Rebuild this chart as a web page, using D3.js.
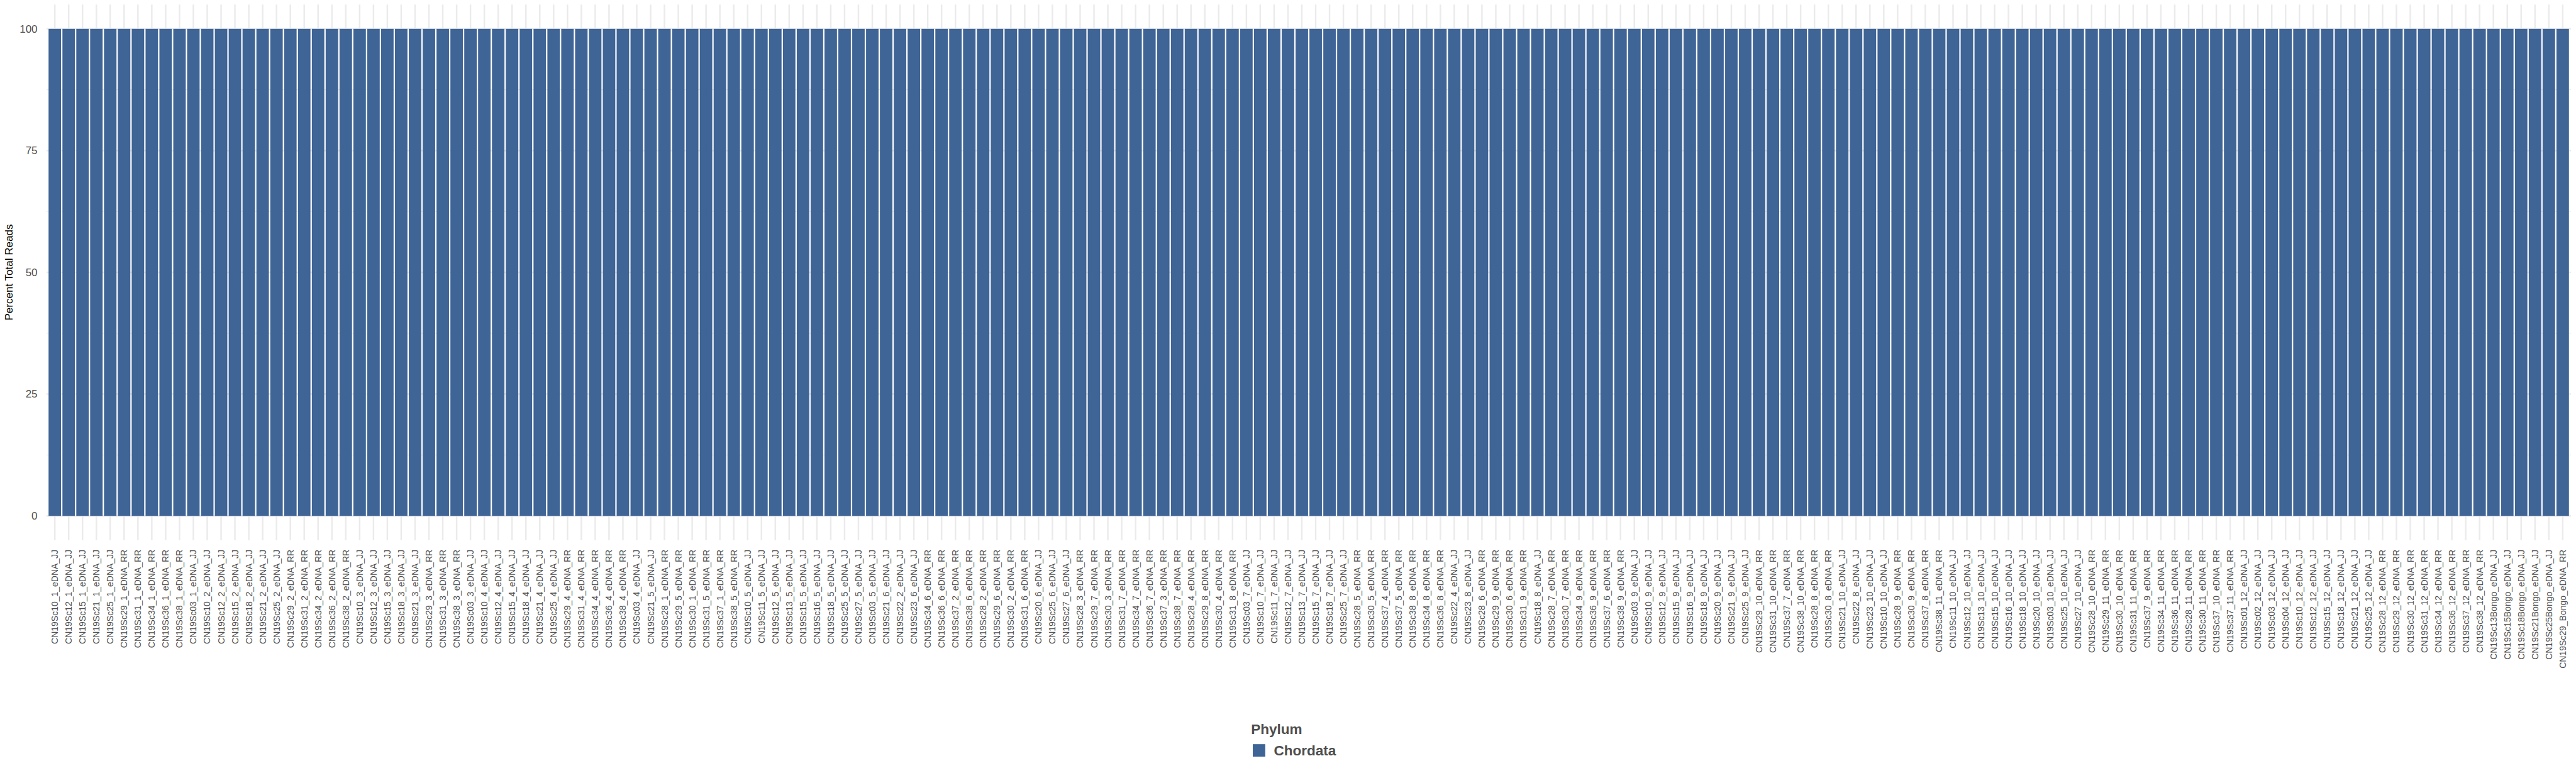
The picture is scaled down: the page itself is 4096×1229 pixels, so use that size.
<!DOCTYPE html>
<html>
<head>
<meta charset="utf-8">
<script src="https://cdn.jsdelivr.net/npm/d3@7"></script>
<style>
html, body { margin: 0; padding: 0; background: #ffffff; overflow: hidden; }
svg { display: block; }
</style>
</head>
<body>
<script>
// ---------------- DATA ----------------
const samples = [
"CN19Sc10_1_eDNA_JJ","CN19Sc12_1_eDNA_JJ","CN19Sc15_1_eDNA_JJ","CN19Sc21_1_eDNA_JJ","CN19Sc25_1_eDNA_JJ",
"CN19Sc29_1_eDNA_RR","CN19Sc31_1_eDNA_RR","CN19Sc34_1_eDNA_RR","CN19Sc36_1_eDNA_RR","CN19Sc38_1_eDNA_RR",
"CN19Sc03_1_eDNA_JJ","CN19Sc10_2_eDNA_JJ","CN19Sc12_2_eDNA_JJ","CN19Sc15_2_eDNA_JJ","CN19Sc18_2_eDNA_JJ",
"CN19Sc21_2_eDNA_JJ","CN19Sc25_2_eDNA_JJ","CN19Sc29_2_eDNA_RR","CN19Sc31_2_eDNA_RR","CN19Sc34_2_eDNA_RR",
"CN19Sc36_2_eDNA_RR","CN19Sc38_2_eDNA_RR","CN19Sc10_3_eDNA_JJ","CN19Sc12_3_eDNA_JJ","CN19Sc15_3_eDNA_JJ",
"CN19Sc18_3_eDNA_JJ","CN19Sc21_3_eDNA_JJ","CN19Sc29_3_eDNA_RR","CN19Sc31_3_eDNA_RR","CN19Sc38_3_eDNA_RR",
"CN19Sc03_3_eDNA_JJ","CN19Sc10_4_eDNA_JJ","CN19Sc12_4_eDNA_JJ","CN19Sc15_4_eDNA_JJ","CN19Sc18_4_eDNA_JJ",
"CN19Sc21_4_eDNA_JJ","CN19Sc25_4_eDNA_JJ","CN19Sc29_4_eDNA_RR","CN19Sc31_4_eDNA_RR","CN19Sc34_4_eDNA_RR",
"CN19Sc36_4_eDNA_RR","CN19Sc38_4_eDNA_RR","CN19Sc03_4_eDNA_JJ","CN19Sc21_5_eDNA_JJ","CN19Sc28_1_eDNA_RR",
"CN19Sc29_5_eDNA_RR","CN19Sc30_1_eDNA_RR","CN19Sc31_5_eDNA_RR","CN19Sc37_1_eDNA_RR","CN19Sc38_5_eDNA_RR",
"CN19Sc10_5_eDNA_JJ","CN19Sc11_5_eDNA_JJ","CN19Sc12_5_eDNA_JJ","CN19Sc13_5_eDNA_JJ","CN19Sc15_5_eDNA_JJ",
"CN19Sc16_5_eDNA_JJ","CN19Sc18_5_eDNA_JJ","CN19Sc25_5_eDNA_JJ","CN19Sc27_5_eDNA_JJ","CN19Sc03_5_eDNA_JJ",
"CN19Sc21_6_eDNA_JJ","CN19Sc22_2_eDNA_JJ","CN19Sc23_6_eDNA_JJ","CN19Sc34_6_eDNA_RR","CN19Sc36_6_eDNA_RR",
"CN19Sc37_2_eDNA_RR","CN19Sc38_6_eDNA_RR","CN19Sc28_2_eDNA_RR","CN19Sc29_6_eDNA_RR","CN19Sc30_2_eDNA_RR",
"CN19Sc31_6_eDNA_RR","CN19Sc20_6_eDNA_JJ","CN19Sc25_6_eDNA_JJ","CN19Sc27_6_eDNA_JJ","CN19Sc28_3_eDNA_RR",
"CN19Sc29_7_eDNA_RR","CN19Sc30_3_eDNA_RR","CN19Sc31_7_eDNA_RR","CN19Sc34_7_eDNA_RR","CN19Sc36_7_eDNA_RR",
"CN19Sc37_3_eDNA_RR","CN19Sc38_7_eDNA_RR","CN19Sc28_4_eDNA_RR","CN19Sc29_8_eDNA_RR","CN19Sc30_4_eDNA_RR",
"CN19Sc31_8_eDNA_RR","CN19Sc03_7_eDNA_JJ","CN19Sc10_7_eDNA_JJ","CN19Sc11_7_eDNA_JJ","CN19Sc12_7_eDNA_JJ",
"CN19Sc13_7_eDNA_JJ","CN19Sc15_7_eDNA_JJ","CN19Sc18_7_eDNA_JJ","CN19Sc25_7_eDNA_JJ","CN19Sc28_5_eDNA_RR",
"CN19Sc30_5_eDNA_RR","CN19Sc37_4_eDNA_RR","CN19Sc37_5_eDNA_RR","CN19Sc38_8_eDNA_RR","CN19Sc34_8_eDNA_RR",
"CN19Sc36_8_eDNA_RR","CN19Sc22_4_eDNA_JJ","CN19Sc23_8_eDNA_JJ","CN19Sc28_6_eDNA_RR","CN19Sc29_9_eDNA_RR",
"CN19Sc30_6_eDNA_RR","CN19Sc31_9_eDNA_RR","CN19Sc18_8_eDNA_JJ","CN19Sc28_7_eDNA_RR","CN19Sc30_7_eDNA_RR",
"CN19Sc34_9_eDNA_RR","CN19Sc36_9_eDNA_RR","CN19Sc37_6_eDNA_RR","CN19Sc38_9_eDNA_RR","CN19Sc03_9_eDNA_JJ",
"CN19Sc10_9_eDNA_JJ","CN19Sc12_9_eDNA_JJ","CN19Sc15_9_eDNA_JJ","CN19Sc16_9_eDNA_JJ","CN19Sc18_9_eDNA_JJ",
"CN19Sc20_9_eDNA_JJ","CN19Sc21_9_eDNA_JJ","CN19Sc25_9_eDNA_JJ","CN19Sc29_10_eDNA_RR","CN19Sc31_10_eDNA_RR",
"CN19Sc37_7_eDNA_RR","CN19Sc38_10_eDNA_RR","CN19Sc28_8_eDNA_RR","CN19Sc30_8_eDNA_RR","CN19Sc21_10_eDNA_JJ",
"CN19Sc22_8_eDNA_JJ","CN19Sc23_10_eDNA_JJ","CN19Sc10_10_eDNA_JJ","CN19Sc28_9_eDNA_RR","CN19Sc30_9_eDNA_RR",
"CN19Sc37_8_eDNA_RR","CN19Sc38_11_eDNA_RR","CN19Sc11_10_eDNA_JJ","CN19Sc12_10_eDNA_JJ","CN19Sc13_10_eDNA_JJ",
"CN19Sc15_10_eDNA_JJ","CN19Sc16_10_eDNA_JJ","CN19Sc18_10_eDNA_JJ","CN19Sc20_10_eDNA_JJ","CN19Sc03_10_eDNA_JJ",
"CN19Sc25_10_eDNA_JJ","CN19Sc27_10_eDNA_JJ","CN19Sc28_10_eDNA_RR","CN19Sc29_11_eDNA_RR","CN19Sc30_10_eDNA_RR",
"CN19Sc31_11_eDNA_RR","CN19Sc37_9_eDNA_RR","CN19Sc34_11_eDNA_RR","CN19Sc36_11_eDNA_RR","CN19Sc28_11_eDNA_RR",
"CN19Sc30_11_eDNA_RR","CN19Sc37_10_eDNA_RR","CN19Sc37_11_eDNA_RR","CN19Sc01_12_eDNA_JJ","CN19Sc02_12_eDNA_JJ",
"CN19Sc03_12_eDNA_JJ","CN19Sc04_12_eDNA_JJ","CN19Sc10_12_eDNA_JJ","CN19Sc12_12_eDNA_JJ","CN19Sc15_12_eDNA_JJ",
"CN19Sc18_12_eDNA_JJ","CN19Sc21_12_eDNA_JJ","CN19Sc25_12_eDNA_JJ","CN19Sc28_12_eDNA_RR","CN19Sc29_12_eDNA_RR",
"CN19Sc30_12_eDNA_RR","CN19Sc31_12_eDNA_RR","CN19Sc34_12_eDNA_RR","CN19Sc36_12_eDNA_RR","CN19Sc37_12_eDNA_RR",
"CN19Sc38_12_eDNA_RR","CN19Sc13Bongo_eDNA_JJ","CN19Sc15Bongo_eDNA_JJ","CN19Sc18Bongo_eDNA_JJ","CN19Sc21Bongo_eDNA_JJ",
"CN19Sc25Bongo_eDNA_JJ","CN19Sc29_Bongo_eDNA_RR"
];

// Percent of total reads assigned to Chordata, one per sample
const chordataPercent = [
100,100,100,100,100,100,100,100,100,100,
100,100,100,100,100,100,100,100,100,100,
100,100,100,100,100,100,100,100,100,100,
100,100,100,100,100,100,100,100,100,100,
100,100,100,100,100,100,100,100,100,100,
100,100,100,100,100,100,100,100,100,100,
100,100,100,100,100,100,100,100,100,100,
100,100,100,100,100,100,100,100,100,100,
100,100,100,100,100,100,100,100,100,100,
100,100,100,100,100,100,100,100,100,100,
100,100,100,100,100,100,100,100,100,100,
100,100,100,100,100,100,100,100,100,100,
100,100,100,100,100,100,100,100,100,100,
100,100,100,100,100,100,100,100,100,100,
100,100,100,100,100,100,100,100,100,100,
100,100,100,100,100,100,100,100,100,100,
100,100,100,100,100,100,100,100,100,100,
100,100,100,100,100,100,100,100,100,100,
100,100
];

const phyla = ["Chordata"];
const phylumColors = ["#3F6496"];
const yTickValues = [0, 25, 50, 75, 100];
const yMinorValues = [12.5, 37.5, 62.5, 87.5];
const yTitle = "Percent Total Reads";
const legendTitle = "Phylum";

// ---------------- LAYOUT (reference pixel units, 6000 x 1800) ----------------
const W = 6000, H = 1800;
const panel = { left: 108.3, right: 5988.4, top: 10.3, bottom: 1258 };
const fontFamily = "'Liberation Sans', Arial, Helvetica, sans-serif";
const textGrey = "#4D4D4D";
const gridColor = "#EBEBEB";

const svg = d3.select("body").append("svg")
  .attr("width", 4096).attr("height", 1229)
  .attr("viewBox", `0 0 ${W} ${H}`)
  .style("font-family", fontFamily);

svg.append("rect").attr("width", W).attr("height", H).attr("fill", "#ffffff");

const data = samples.map((s, i) => ({ sample: s, value: chordataPercent[i], phylum: phyla[0] }));

const x = d3.scaleBand()
  .domain(samples)
  .range([panel.left, panel.right])
  .paddingInner(0.1)
  .paddingOuter(0.15);

const y = d3.scaleLinear()
  .domain([-5, 105])
  .range([panel.bottom, panel.top]);

const color = d3.scaleOrdinal().domain(phyla).range(phylumColors);

// grid
const grid = svg.append("g");
grid.selectAll("line.minor").data(yMinorValues).join("line")
  .attr("x1", panel.left).attr("x2", panel.right)
  .attr("y1", d => y(d)).attr("y2", d => y(d))
  .attr("stroke", gridColor).attr("stroke-width", 1.8);
grid.selectAll("line.hmajor").data(yTickValues).join("line")
  .attr("x1", panel.left).attr("x2", panel.right)
  .attr("y1", d => y(d)).attr("y2", d => y(d))
  .attr("stroke", gridColor).attr("stroke-width", 3.6);
grid.selectAll("line.vmajor").data(samples).join("line")
  .attr("x1", d => x(d) + x.bandwidth() / 2).attr("x2", d => x(d) + x.bandwidth() / 2)
  .attr("y1", panel.top).attr("y2", panel.bottom)
  .attr("stroke", gridColor).attr("stroke-width", 3.6);

// bars
svg.append("g").selectAll("rect").data(data).join("rect")
  .attr("x", d => x(d.sample))
  .attr("width", x.bandwidth())
  .attr("y", d => y(d.value))
  .attr("height", d => y(0) - y(d.value))
  .attr("fill", d => color(d.phylum));

// y axis
const yAxis = d3.axisLeft(y).tickValues(yTickValues).tickSize(0).tickPadding(21);
const gy = svg.append("g").attr("transform", `translate(${panel.left},0)`).call(yAxis);
gy.select(".domain").remove();
gy.selectAll("text")
  .attr("fill", textGrey)
  .style("font-size", "25px")
  .style("font-family", fontFamily);

// x axis
const xAxis = d3.axisBottom(x).tickSize(0).tickPadding(0);
const gx = svg.append("g").attr("transform", `translate(0,${panel.bottom})`).call(xAxis);
gx.select(".domain").remove();
gx.selectAll("text")
  .attr("fill", textGrey)
  .style("font-size", "20.5px")
  .style("font-family", fontFamily)
  .attr("text-anchor", "end")
  .attr("dy", null)
  .attr("y", 0)
  .attr("dominant-baseline", "central")
  .attr("transform", "translate(0,22) rotate(-90)");

// y title
svg.append("text")
  .attr("transform", `translate(21,${(panel.top + panel.bottom) / 2}) rotate(-90)`)
  .attr("text-anchor", "middle")
  .attr("dominant-baseline", "central")
  .attr("fill", "#000000")
  .style("font-size", "25px")
  .text(yTitle);

// legend
const legend = svg.append("g");
legend.append("text")
  .attr("x", 2914).attr("y", 1710)
  .attr("fill", textGrey)
  .style("font-size", "33px").style("font-weight", "bold")
  .text(legendTitle);
const items = legend.selectAll("g.item").data(phyla).join("g")
  .attr("transform", (d, i) => `translate(2918,${1733 + i * 40})`);
items.append("rect")
  .attr("width", 29).attr("height", 29)
  .attr("fill", d => color(d));
items.append("text")
  .attr("x", 49).attr("y", 26)
  .attr("fill", textGrey)
  .style("font-size", "33px").style("font-weight", "bold")
  .text(d => d);
</script>
</body>
</html>
